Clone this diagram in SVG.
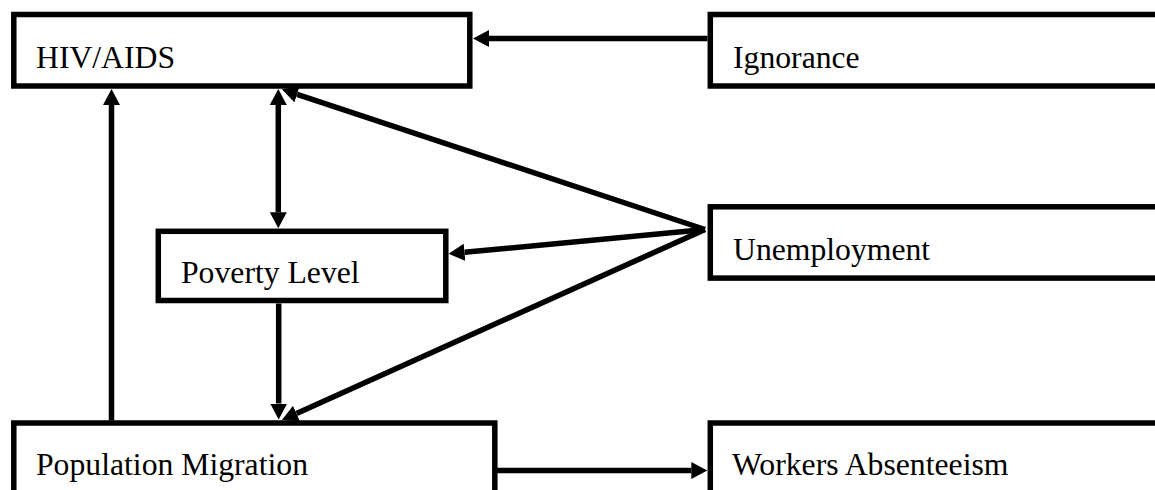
<svg xmlns="http://www.w3.org/2000/svg" width="1155" height="490" viewBox="0 0 1155 490">
  <style>
    .box { fill: #ffffff; stroke: #000000; stroke-width: 5.5; }
    .label { font-family: "Liberation Serif", "Times New Roman", serif; font-size: 31.7px; fill: #000000; }
    .link { fill: none; stroke: #000000; stroke-width: 5.5; stroke-linecap: butt; }
  </style>
  <defs>
    <!-- arrowhead whose base sits on the line end -->
    <marker id="head" markerUnits="userSpaceOnUse" markerWidth="18" markerHeight="18" refX="0" refY="8.5" orient="auto">
      <path d="M0,0 L16,8.5 L0,17 Z" fill="#000000"/>
    </marker>
    <marker id="headStart" markerUnits="userSpaceOnUse" markerWidth="18" markerHeight="18" refX="0" refY="8.5" orient="auto-start-reverse">
      <path d="M0,0 L16,8.5 L0,17 Z" fill="#000000"/>
    </marker>
  </defs>

  <rect width="1155" height="490" fill="#ffffff"/>

  <g id="node-hiv">
    <rect class="box" x="13.8" y="14.5" width="456" height="71.5"/>
    <text class="label" x="36" y="68">HIV/AIDS</text>
  </g>

  <g id="node-ignorance">
    <rect class="box" x="710.3" y="14.5" width="460" height="71.5"/>
    <text class="label" x="733" y="68.3">Ignorance</text>
  </g>

  <g id="node-poverty">
    <rect class="box" x="158.3" y="231.3" width="287.5" height="69.2"/>
    <text class="label" x="181" y="283.3">Poverty Level</text>
  </g>

  <g id="node-unemployment">
    <rect class="box" x="710.3" y="206.8" width="460" height="71.3"/>
    <text class="label" x="733" y="260">Unemployment</text>
  </g>

  <g id="node-migration">
    <rect class="box" x="13.8" y="423" width="481" height="90"/>
    <text class="label" x="36" y="475">Population Migration</text>
  </g>

  <g id="node-absenteeism">
    <rect class="box" x="710.3" y="423" width="460" height="90"/>
    <text class="label" x="732" y="475">Workers Absenteeism</text>
  </g>

  <g id="connectors">
    <!-- Ignorance to HIV/AIDS -->
    <line class="link" x1="707.5" y1="38.5" x2="489" y2="38.5" marker-end="url(#head)"/>
    <!-- HIV/AIDS and Poverty Level, both ways -->
    <line class="link" x1="278.3" y1="105" x2="278.3" y2="212.3" marker-start="url(#headStart)" marker-end="url(#head)"/>
    <!-- Poverty Level to Population Migration -->
    <line class="link" x1="278.7" y1="303.5" x2="278.7" y2="403.5" marker-end="url(#head)"/>
    <!-- Population Migration to HIV/AIDS -->
    <line class="link" x1="111.5" y1="420.5" x2="111.5" y2="105" marker-end="url(#head)"/>
    <!-- Unemployment fans out -->
    <line class="link" x1="705" y1="229.5" x2="297.1" y2="94.3" marker-end="url(#head)"/>
    <line class="link" x1="705" y1="229.5" x2="464.5" y2="252.3" marker-end="url(#head)"/>
    <line class="link" x1="705" y1="229.5" x2="296.5" y2="413.5" marker-end="url(#head)"/>
    <!-- Population Migration to Workers Absenteeism -->
    <line class="link" x1="497" y1="470.5" x2="691.3" y2="470.5" marker-end="url(#head)"/>
  </g>
</svg>
